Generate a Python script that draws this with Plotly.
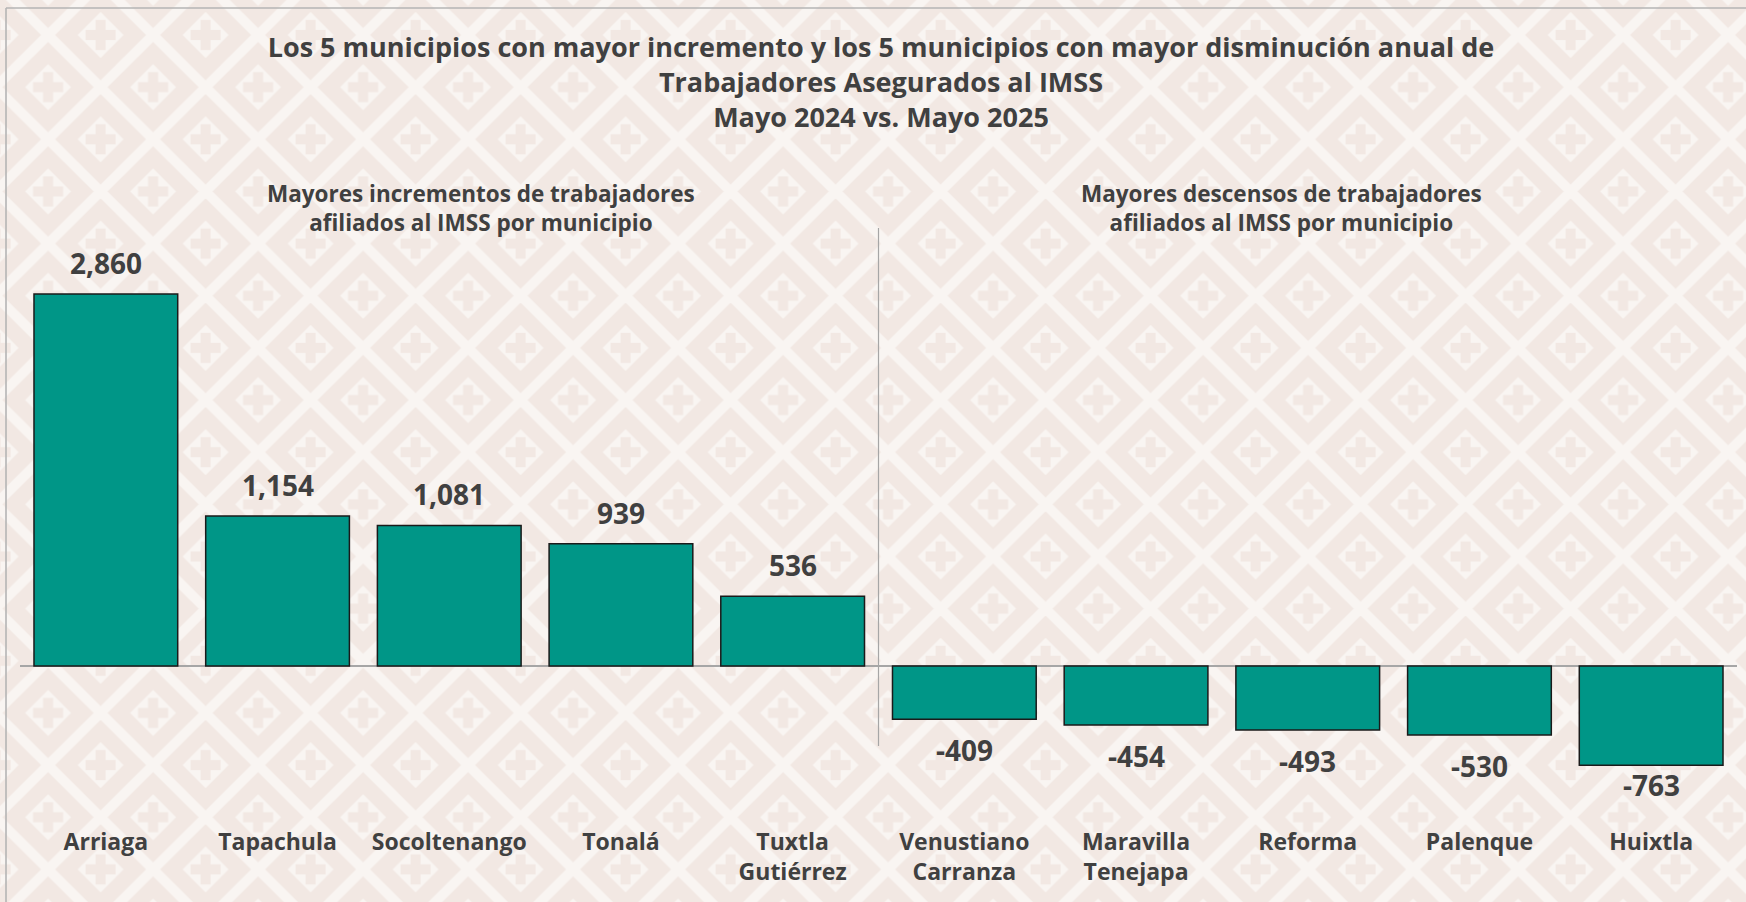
import base64
import plotly.graph_objects as go

# ---------------- data ----------------
municipios = ["Arriaga", "Tapachula", "Socoltenango", "Tonalá", "Tuxtla Gutiérrez",
              "Venustiano Carranza", "Maravilla Tenejapa", "Reforma", "Palenque", "Huixtla"]
etiquetas = ["Arriaga", "Tapachula", "Socoltenango", "Tonalá", "Tuxtla<br>Gutiérrez",
             "Venustiano<br>Carranza", "Maravilla<br>Tenejapa", "Reforma", "Palenque", "Huixtla"]
variacion = [2860, 1154, 1081, 939, 536, -409, -454, -493, -530, -763]

titulo = ("Los 5 municipios con mayor incremento y los 5 municipios con mayor disminución anual de"
          "<br>Trabajadores Asegurados al IMSS<br>Mayo 2024 vs. Mayo 2025")
sub_izq = "Mayores incrementos de trabajadores<br>afiliados al IMSS por municipio"
sub_der = "Mayores descensos de trabajadores<br>afiliados al IMSS por municipio"

# ---------------- style ----------------
FONT = "Open Sans"
TXT = "#404040"
BAR = "#009687"
BEIGE = "#f2e8e3"
LIGHT = "#f9f5f2"
W, H = 1746, 902
ML, MR, MT, MB = 20, 9, 228, 102
PW, PH = W - ML - MR, H - MT - MB

# ---------------- background pattern (svg) ----------------
tw, th = 105.0, 104.3
hw, hh = tw / 2, th / 2


def ext(p, q, e=0.35):
    dx, dy = q[0] - p[0], q[1] - p[1]
    return (p[0] - e * dx, p[1] - e * dy, q[0] + e * dx, q[1] + e * dy)


segs = [ext((hw, 0), (0, hh)), ext((tw, hh), (hw, th)),
        ext((hw, 0), (tw, hh)), ext((0, hh), (hw, th))]
parts = [f"<rect x='0' y='0' width='{tw}' height='{th}' fill='{BEIGE}'/>"]
for x1, y1, x2, y2 in segs:
    parts.append(f"<line x1='{x1:.2f}' y1='{y1:.2f}' x2='{x2:.2f}' y2='{y2:.2f}' "
                 f"stroke='{LIGHT}' stroke-width='10'/>")
for cx, cy in [(0, 0), (tw, 0), (0, th), (tw, th), (hw, hh)]:
    r = 23
    parts.append(f"<polygon points='{cx - r},{cy} {cx},{cy - r} {cx + r},{cy} {cx},{cy + r}' fill='{LIGHT}'/>")
    parts.append(f"<rect x='{cx - 15}' y='{cy - 5}' width='30' height='10' fill='{BEIGE}'/>")
    parts.append(f"<rect x='{cx - 5}' y='{cy - 15}' width='10' height='30' fill='{BEIGE}'/>")
svg = (f"<svg xmlns='http://www.w3.org/2000/svg' width='{W}' height='{H}' viewBox='0 0 {W} {H}'>"
       f"<defs><pattern id='p' patternUnits='userSpaceOnUse' x='-4.4' y='35' width='{tw}' height='{th}'>"
       + "".join(parts) +
       f"</pattern></defs><rect width='{W}' height='{H}' fill='url(#p)'/></svg>")
src = "data:image/svg+xml;base64," + base64.b64encode(svg.encode()).decode()


def py(pix):
    """pixel row (from top) -> paper y"""
    return (H - MB - pix) / PH


def px(pix):
    return (pix - ML) / PW


zero_px = 666
scale = (zero_px - 294) / 2860.0          # pixels per unit
y_min = -(H - MB - zero_px) / scale
y_max = (zero_px - MT) / scale
LABEL_SIZE = 28
label_h = LABEL_SIZE * 1.35

# ---------------- figure ----------------
fig = go.Figure()
fig.add_trace(go.Bar(
    x=municipios, y=variacion,
    marker=dict(color=BAR, line=dict(color="#1a1a1a", width=1.5)),
    hoverinfo="x+y",
))

# value labels (kept inside the plot area, as in the original)
for m, v in zip(municipios, variacion):
    if v >= 0:
        fig.add_annotation(x=m, y=v, text=f"<b>{v:,}</b>", showarrow=False,
                           yanchor="bottom", yshift=10,
                           font=dict(family=FONT, size=LABEL_SIZE, color=TXT))
    else:
        room = (v - y_min) * scale
        if room >= 10 + label_h:
            fig.add_annotation(x=m, y=v, text=f"<b>{v:,}</b>", showarrow=False,
                               yanchor="top", yshift=-10,
                               font=dict(family=FONT, size=LABEL_SIZE, color=TXT))
        else:
            fig.add_annotation(x=m, y=y_min, text=f"<b>{v:,}</b>", showarrow=False,
                               yanchor="bottom", yshift=-6,
                               font=dict(family=FONT, size=LABEL_SIZE, color=TXT))

# subtitles
for xp, t in [(px(481), sub_izq), (px(1281), sub_der)]:
    fig.add_annotation(xref="paper", yref="paper", x=xp, y=py(176),
                       text=f"<b>{t}</b>", showarrow=False, xanchor="center", yanchor="top",
                       font=dict(family=FONT, size=22.5, color=TXT))

# separator line between the two groups
fig.add_shape(type="line", xref="x", yref="paper", x0=4.5, x1=4.5, y0=py(746), y1=py(228),
              line=dict(color="#a6a6a6", width=1.2))
# figure frame (top + left)
fig.add_shape(type="line", xref="paper", yref="paper", x0=px(6), x1=px(W + 20), y0=py(8), y1=py(8),
              line=dict(color="#b4b4b4", width=1.6))
fig.add_shape(type="line", xref="paper", yref="paper", x0=px(6), x1=px(6), y0=py(8), y1=py(H + 20),
              line=dict(color="#b4b4b4", width=1.6))

fig.add_layout_image(dict(source=src, xref="paper", yref="paper", x=px(0), y=py(0),
                          sizex=W / PW, sizey=H / PH, xanchor="left", yanchor="top",
                          sizing="stretch", layer="below"))

fig.update_layout(
    width=W, height=H,
    margin=dict(l=ML, r=MR, t=MT, b=MB, autoexpand=False),
    paper_bgcolor=BEIGE, plot_bgcolor="rgba(0,0,0,0)",
    showlegend=False,
    bargap=0.163,
    title=dict(text=f"<b>{titulo}</b>", x=881 / W, xanchor="center", xref="container",
               y=1 - 57 / H, yanchor="top",
               font=dict(family=FONT, size=27, color=TXT)),
    xaxis=dict(tickmode="array", tickvals=municipios, ticktext=[f"<b>{t}</b>" for t in etiquetas],
               showgrid=False, showline=False, ticks="", zeroline=False,
               tickfont=dict(family=FONT, size=23, color=TXT), ticklabelstandoff=26,
               range=[-0.5, 9.5]),
    yaxis=dict(range=[y_min, y_max],
               showgrid=False, showticklabels=False, ticks="", showline=False,
               zeroline=True, zerolinecolor="#a6a6a6", zerolinewidth=1.5),
)

fig.write_html("out.html", config={"displayModeBar": False},
               post_script="document.body.style.margin='0';document.body.style.overflow='hidden';")
